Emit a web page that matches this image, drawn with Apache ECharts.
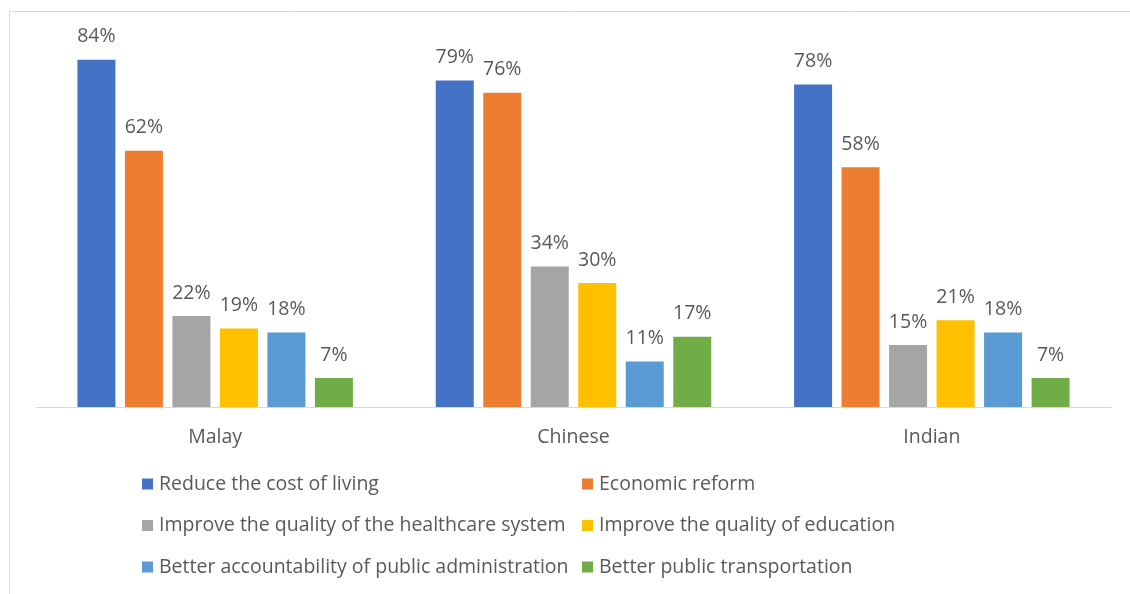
<!DOCTYPE html>
<html>
<head>
<meta charset="utf-8">
<script src="https://cdn.jsdelivr.net/npm/echarts@6/dist/echarts.min.js"></script>
<style>
html,body{margin:0;padding:0;background:#fff;}
#c{width:1130px;height:594px;}
</style>
</head>
<body>
<div id="c"></div>
<script>
const categories = ['Malay', 'Chinese', 'Indian'];
const seriesNames = [
  'Reduce the cost of living',
  'Economic reform',
  'Improve the quality of the healthcare system',
  'Improve the quality of education',
  'Better accountability of public administration',
  'Better public transportation'
];
const costOfLiving = [84, 79, 78];
const economicReform = [62, 76, 58];
const healthcare = [22, 34, 15];
const education = [19, 30, 21];
const accountability = [18, 11, 18];
const transport = [7, 17, 7];
const colors = ['#4472C4', '#ED7D31', '#A5A5A5', '#FFC000', '#5B9BD5', '#70AD47'];

const values = [costOfLiving, economicReform, healthcare, education, accountability, transport];
const FONT = 'Open Sans';
const TXT = '#595959';

const chart = echarts.init(document.getElementById('c'), null, {renderer: 'canvas'});
chart.setOption({
  animation: false,
  backgroundColor: '#fff',
  textStyle: {fontFamily: FONT},
  grid: {left: 36, right: 19, top: 35, bottom: 187, containLabel: false},
  xAxis: {
    type: 'category',
    data: categories,
    axisLine: {lineStyle: {color: '#d9d9d9', width: 1}},
    axisTick: {show: false},
    axisLabel: {color: TXT, fontSize: 19.5, fontFamily: FONT, margin: 20}
  },
  yAxis: {
    type: 'value', min: 0, max: 90, show: false,
    splitLine: {show: false}
  },
  legend: [
    {
      orient: 'vertical', left: 137, top: 469, itemGap: 21.5,
      itemWidth: 11, itemHeight: 11, icon: 'rect',
      textStyle: {color: TXT, fontSize: 19.5, fontFamily: FONT, padding: [0, 0, 0, 1]},
      data: [seriesNames[0], seriesNames[2], seriesNames[4]]
    },
    {
      orient: 'vertical', left: 577, top: 469, itemGap: 21.5,
      itemWidth: 11, itemHeight: 11, icon: 'rect',
      textStyle: {color: TXT, fontSize: 19.5, fontFamily: FONT, padding: [0, 0, 0, 1]},
      data: [seriesNames[1], seriesNames[3], seriesNames[5]]
    }
  ],
  graphic: [
    {type: 'line', shape: {x1: 9.5, y1: 11, x2: 9.5, y2: 594}, style: {stroke: '#d9d9d9', lineWidth: 1}},
    {type: 'line', shape: {x1: 9, y1: 11.5, x2: 1130, y2: 11.5}, style: {stroke: '#d9d9d9', lineWidth: 1}}
  ],
  series: seriesNames.map((name, i) => ({
    name: name,
    type: 'bar',
    data: values[i],
    barWidth: 38,
    barGap: '25%',
    barCategoryGap: '23%',
    itemStyle: {color: colors[i]},
    label: {
      show: true, position: 'top', distance: 13,
      formatter: '{c}%', color: TXT, fontSize: 19.5, fontFamily: FONT
    }
  }))
});
</script>
</body>
</html>
